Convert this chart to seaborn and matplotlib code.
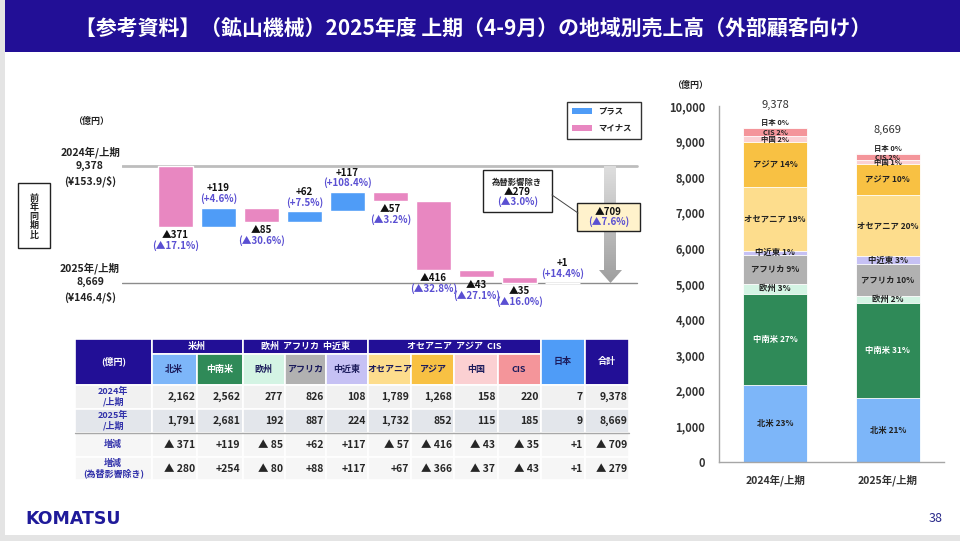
import numpy as np
import pandas as pd
import seaborn as sns
import matplotlib.pyplot as plt
from matplotlib.patches import Rectangle, Polygon
from matplotlib.colors import LinearSegmentedColormap

# Data (億円)
regions = ["北米", "中南米", "欧州", "アフリカ", "中近東", "オセアニア", "アジア", "中国", "CIS", "日本"]
sales_2024 = [2162, 2562, 277, 826, 108, 1789, 1268, 158, 220, 7]
sales_2025 = [1791, 2681, 192, 887, 224, 1732, 852, 115, 185, 9]
total_2024 = 9378
total_2025 = 8669
diff = [-371, 119, -85, 62, 117, -57, -416, -43, -35, 1]
diff_pct = [-17.1, 4.6, -30.6, 7.5, 108.4, -3.2, -32.8, -27.1, -16.0, 14.4]
diff_exfx = [-280, 254, -80, 88, 117, 67, -366, -37, -43, 1]
total_diff = -709
total_diff_pct = -7.6
total_diff_exfx = -279
total_diff_exfx_pct = -3.0
periods = ["2024年/上期", "2025年/上期"]
fx_rates = ["(¥153.9/$)", "(¥146.4/$)"]
groups = [("米州", 0, 2), ("欧州  アフリカ  中近東", 2, 5), ("オセアニア  アジア  CIS", 5, 9)]

title = "【参考資料】（鉱山機械）2025年度 上期（4-9月）の地域別売上高（外部顧客向け）"

region_colors = ["#7db6f9", "#2f8a58", "#d4f4e4", "#b1b1b1", "#c6c1f4",
                 "#fddd8d", "#f8c143", "#fbd0d2", "#f4959a", "#f6dfe6"]
plus_color = "#4f9cf7"
minus_color = "#e887c1"
navy = "#220f96"
pct_color = "#5a4fd2"

sns.set_theme(style="white")
plt.rcParams["font.family"] = ["Noto Sans CJK JP", "DejaVu Sans"]

W, H = 960, 541
fig = plt.figure(figsize=(9.6, 5.41), dpi=100, facecolor="white")


def px_axes(l, t, r, b, **kw):
    return fig.add_axes([l / W, 1 - b / H, (r - l) / W, (b - t) / H], **kw)


def delta(v, space=False):
    if v < 0:
        return "▲" + (" " if space else "") + f"{abs(v):,}"
    return f"+{v:,}"


def delta_pct(v):
    return f"(▲{abs(v):.1f}%)" if v < 0 else f"(+{v:.1f}%)"


# ---------------- waterfall ----------------
ax_w = px_axes(122, 100, 641, 310)
upp = (total_2024 - total_2025) / (283 - 166)  # value units per pixel
x0, step = 175.5, 43.0
xlim_w = (-(x0 - 122) / step, (641 - x0) / step)
ylim_w = (total_2025 - (310 - 283) * upp, total_2024 + (166 - 100) * upp)
ax_w.axis("off")

ax_w.plot([xlim_w[0], (637 - x0) / step], [total_2024] * 2, color="#bdbdbd", lw=2, zorder=1)
ax_w.plot([xlim_w[0], (637 - x0) / step], [total_2025] * 2, color="#8c8c8c", lw=1, zorder=1)

level = total_2024
for i, (d, p) in enumerate(zip(diff, diff_pct)):
    lo, hi = min(level, level + d), max(level, level + d)
    ax_w.bar(i, hi - lo, bottom=lo, width=35 / step,
             color=plus_color if d > 0 else minus_color, zorder=3)
    if d < 0:
        ax_w.text(i, lo - 8 * upp, delta(d), ha="center", va="center", fontsize=7,
                  fontweight="bold", color="#111111")
        ax_w.text(i, lo - 18.5 * upp, delta_pct(p), ha="center", va="center", fontsize=7,
                  fontweight="bold", color=pct_color)
    else:
        ax_w.text(i, hi + 19.5 * upp, delta(d), ha="center", va="center", fontsize=7,
                  fontweight="bold", color="#111111")
        ax_w.text(i, hi + 9 * upp, delta_pct(p), ha="center", va="center", fontsize=7,
                  fontweight="bold", color=pct_color)
    level += d

# gradient arrow from last year's total down to this year's total
sx0, sx1 = (604 - x0) / step, (616 - x0) / step
hx0, hx1 = (599 - x0) / step, (622 - x0) / step
head_y = total_2025 + 13 * upp
arrow = Polygon([(sx0, total_2024), (sx1, total_2024), (sx1, head_y), (hx1, head_y),
                 ((hx0 + hx1) / 2, total_2025), (hx0, head_y), (sx0, head_y)],
                closed=True, facecolor="none", edgecolor="none")
ax_w.add_patch(arrow)
grad = np.linspace(0, 1, 256).reshape(-1, 1)
cmap = LinearSegmentedColormap.from_list("arrow", ["#dedede", "#9e9e9e"])
im = ax_w.imshow(grad, cmap=cmap, extent=[hx0, hx1, total_2025, total_2024],
                 aspect="auto", origin="upper", zorder=2)
im.set_clip_path(arrow)
ax_w.set_xlim(*xlim_w)
ax_w.set_ylim(*ylim_w)

# ---------------- stacked bars ----------------
ax_s = px_axes(719, 106, 944, 462)
rows = []
for per, vals in zip(periods, [sales_2024, sales_2025]):
    for reg, top in zip(regions, np.cumsum(vals)):
        rows.append({"period": per, "region": reg, "top": top})
stack = pd.DataFrame(rows)
for reg, col in reversed(list(zip(regions, region_colors))):
    sns.barplot(data=stack[stack["region"] == reg], x="period", y="top", order=periods,
                color=col, width=0.57, saturation=1, errorbar=None,
                edgecolor="white", linewidth=0.6, ax=ax_s)
ax_s.set_xlim(-0.5, 1.5)
ax_s.set_ylim(0, 10000)
ax_s.set_xlabel("")
ax_s.set_ylabel("")
ax_s.set_yticks(range(0, 10001, 1000))
ax_s.set_yticklabels([f"{v:,}" for v in range(0, 10001, 1000)])
ax_s.set_xticks([0.5, 1.5], minor=True)
ax_s.tick_params(axis="y", length=4, width=0.8, color="#999999", pad=6, labelsize=8, labelcolor="#333333")
ax_s.tick_params(axis="x", which="major", length=0, pad=9, labelsize=7.5, labelcolor="#333333")
ax_s.tick_params(axis="x", which="minor", length=4, width=0.8, color="#999999", direction="out")
for lbl in ax_s.get_yticklabels() + ax_s.get_xticklabels():
    lbl.set_fontweight("bold")
sns.despine(ax=ax_s)
for sp in ["left", "bottom"]:
    ax_s.spines[sp].set_color("#a6a6a6")
    ax_s.spines[sp].set_linewidth(1)

small = {"中国", "CIS", "日本"}
for i, (vals, tot) in enumerate(zip([sales_2024, sales_2025], [total_2024, total_2025])):
    cum = np.cumsum(vals)
    for j, (reg, v) in enumerate(zip(regions, vals)):
        mid = cum[j] - v / 2
        if reg == "日本":
            mid += 150
        pct = int(v / tot * 100 + 0.5)
        ax_s.text(i, mid, f"{reg} {pct}%", ha="center", va="center",
                  fontsize=5.3 if reg in small else 6,
                  fontweight="bold", color="white" if reg == "中南米" else "#222222")
    ax_s.text(i, tot + 650, f"{tot:,}", ha="center", va="center", fontsize=8, color="#333333")

# ---------------- overlay (page, labels, table) ----------------
ov = fig.add_axes([0, 0, 1, 1], zorder=5)
ov.set_xlim(0, W)
ov.set_ylim(H, 0)
ov.axis("off")

ov.add_patch(Rectangle((0, 0), 5, H, color="#e4e4e4", lw=0))
ov.add_patch(Rectangle((0, 535), W, 6, color="#e4e4e4", lw=0))
ov.add_patch(Rectangle((5, 0), W - 5, 52, color=navy, lw=0))
ov.text(473, 29, title, color="white", fontsize=15, fontweight="bold", ha="center", va="center")

# waterfall side labels
ov.text(91, 121, "（億円）", ha="center", va="center", fontsize=6.5, fontweight="bold", color="#222222")
for (y0, per, tot, rate) in [(152, periods[0], total_2024, fx_rates[0]), (268, periods[1], total_2025, fx_rates[1])]:
    ov.text(90, y0, per, ha="center", va="center", fontsize=7.5, fontweight="bold", color="#222222")
    ov.text(90, y0 + 14, f"{tot:,}", ha="center", va="center", fontsize=7.5, fontweight="bold", color="#222222")
    ov.text(90, y0 + 29, rate, ha="center", va="center", fontsize=7.5, fontweight="bold", color="#222222")
ov.add_patch(Rectangle((18, 183), 32, 65, facecolor="white", edgecolor="#222222", lw=1))
for k, ch in enumerate("前年同期比"):
    ov.text(34, 198 + 9.3 * k, ch, ha="center", va="center", fontsize=6.5, fontweight="bold", color="#222222")

# legend box
ov.add_patch(Rectangle((567, 102), 74, 37, facecolor="white", edgecolor="#333333", lw=1))
ov.add_patch(Rectangle((572, 108), 20, 6, color=plus_color, lw=0))
ov.add_patch(Rectangle((572, 125), 20, 6, color=minus_color, lw=0))
ov.text(598, 111, "プラス", ha="left", va="center", fontsize=6, fontweight="bold", color="#222222")
ov.text(598, 128, "マイナス", ha="left", va="center", fontsize=6, fontweight="bold", color="#222222")

# callouts
ov.plot([552, 578], [195, 213], color="#444444", lw=0.7)
ov.add_patch(Rectangle((483, 170), 69, 42, facecolor="white", edgecolor="#222222", lw=1))
ov.text(517.5, 182, "為替影響除き", ha="center", va="center", fontsize=6, fontweight="bold", color="#222222")
ov.text(517.5, 192, delta(total_diff_exfx), ha="center", va="center", fontsize=7, fontweight="bold", color="#111111")
ov.text(517.5, 202, delta_pct(total_diff_exfx_pct), ha="center", va="center", fontsize=7, fontweight="bold", color=pct_color)
ov.add_patch(Rectangle((577, 203), 63, 28, facecolor="#fff2cc", edgecolor="#222222", lw=1))
ov.text(608.5, 212, delta(total_diff), ha="center", va="center", fontsize=7, fontweight="bold", color="#111111")
ov.text(608.5, 222, delta_pct(total_diff_pct), ha="center", va="center", fontsize=7, fontweight="bold", color=pct_color)

# stacked chart unit
ov.text(690, 85, "（億円）", ha="center", va="center", fontsize=6.5, fontweight="bold", color="#222222")

# table
col_edges = [75, 151.5, 197, 242.5, 285, 326, 368, 411, 454, 497.5, 541, 584.5, 629]
row_edges = [339, 354, 384.5, 408.5, 432.5, 457, 480]


def cell(c0, c1, r0, r1, face, text="", tcolor="#1c1c5c", size=6.5, ha="center"):
    x_a, x_b = col_edges[c0], col_edges[c1]
    y_a, y_b = row_edges[r0], row_edges[r1]
    ov.add_patch(Rectangle((x_a, y_a), x_b - x_a, y_b - y_a, facecolor=face, edgecolor="white", lw=1.2))
    if text:
        tx = (x_a + x_b) / 2 if ha == "center" else x_b - 2
        ov.text(tx, (y_a + y_b) / 2, text, ha=ha, va="center", fontsize=size,
                fontweight="bold", color=tcolor, linespacing=1.1)


cell(0, 1, 0, 2, navy, "(億円)", "white")
for name, a, b in groups:
    cell(a + 1, b + 1, 0, 1, navy, name, "white")
for j, reg in enumerate(regions[:9]):
    cell(j + 1, j + 2, 1, 2, region_colors[j], reg, "white" if reg == "中南米" else "#1c1c5c")
cell(10, 11, 0, 2, plus_color, "日本", "#1c1c5c")
cell(11, 12, 0, 2, navy, "合計", "white")

row_labels = ["2024年\n/上期", "2025年\n/上期", "増減", "増減\n(為替影響除き)"]
row_faces = ["#f1f1f1", "#e3e6eb", "#f6f6f6", "#f6f6f6"]
row_values = [
    [f"{v:,}" for v in sales_2024 + [total_2024]],
    [f"{v:,}" for v in sales_2025 + [total_2025]],
    [delta(v, True) for v in diff + [total_diff]],
    [delta(v, True) for v in diff_exfx + [total_diff_exfx]],
]
for r, (lab, face, vals) in enumerate(zip(row_labels, row_faces, row_values)):
    cell(0, 1, r + 2, r + 3, face, lab, "#3131aa", size=6.5)
    for c, v in enumerate(vals):
        cell(c + 1, c + 2, r + 2, r + 3, face, v, "#262626", size=7.5, ha="right")
ov.plot([col_edges[0], col_edges[-1]], [row_edges[4], row_edges[4]], color="#a8a8a8", lw=1)

# footer
ov.text(25, 519, "KOMATSU", ha="left", va="center", fontsize=12.5, fontweight="heavy",
        color="#1f1a9a", family="DejaVu Sans")
ov.text(943, 519, "38", ha="right", va="center", fontsize=9, color="#2a2a8a")

fig.savefig("out.png", dpi=100, facecolor=fig.get_facecolor())
